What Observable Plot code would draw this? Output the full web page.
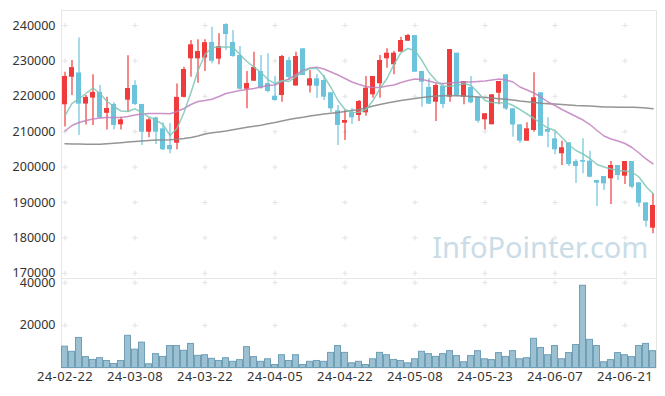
<!DOCTYPE html>
<html>
<head>
<meta charset="utf-8">
<script src="https://cdn.jsdelivr.net/npm/d3@7"></script>
<script src="https://cdn.jsdelivr.net/npm/@observablehq/plot@0.6"></script>
<style>
  html, body { margin: 0; padding: 0; background: #fff; }
  #chart { width: 665px; height: 396px; position: relative; }
  #chart svg { display: block; overflow: visible; background: transparent; }
  #chart svg.vol g[aria-label="x-axis tick label"] text { font-size: 13px; letter-spacing: 0.4px; }
</style>
</head>
<body>
<div id="chart"></div>
<script>
const dates = ["24-02-22","24-02-23","24-02-26","24-02-27","24-02-28","24-02-29","24-03-04","24-03-05","24-03-06","24-03-07",
"24-03-08","24-03-11","24-03-12","24-03-13","24-03-14","24-03-15","24-03-18","24-03-19","24-03-20","24-03-21",
"24-03-22","24-03-25","24-03-26","24-03-27","24-03-28","24-03-29","24-04-01","24-04-02","24-04-03","24-04-04",
"24-04-05","24-04-08","24-04-09","24-04-11","24-04-12","24-04-15","24-04-16","24-04-17","24-04-18","24-04-19",
"24-04-22","24-04-23","24-04-24","24-04-25","24-04-26","24-04-29","24-04-30","24-05-02","24-05-03","24-05-07",
"24-05-08","24-05-09","24-05-10","24-05-13","24-05-14","24-05-16","24-05-17","24-05-20","24-05-21","24-05-22",
"24-05-23","24-05-24","24-05-27","24-05-28","24-05-29","24-05-30","24-05-31","24-06-03","24-06-04","24-06-05",
"24-06-07","24-06-10","24-06-11","24-06-12","24-06-13","24-06-14","24-06-17","24-06-18","24-06-19","24-06-20",
"24-06-21","24-06-24","24-06-25","24-06-26","24-06-27"];

const open = [217600,225400,226600,217800,219500,221100,215200,217700,211950,218900,
223050,217700,209850,213900,210800,206100,206750,219700,230600,230600,
230800,235200,230500,240280,235200,231525,222000,224270,227000,223600,
220000,220225,230110,222900,233400,222900,224940,224460,220990,215900,
212400,215340,214575,215340,220420,223530,230600,228900,232460,235560,
237175,227000,222490,218330,222770,219750,232180,219750,222490,219750,
213350,211950,220870,226070,216470,211950,207320,210340,220990,210620,
207990,203760,206860,201580,201860,201670,196210,197340,196690,200450,
197430,201580,195560,189910,182740];
const high = [226800,230100,236500,220200,226100,223050,219700,218200,214100,231440,
224400,217700,213900,214100,212500,212300,223500,228200,235760,235960,
235960,239500,237650,240480,238600,234070,227000,232460,231525,232000,
225600,231525,231050,232460,233400,227290,226160,225875,220990,217400,
216000,216550,218800,225600,225600,231525,233410,232650,236700,237450,
237175,227000,225030,223530,223530,233220,232180,224180,225600,219750,
215060,220420,224180,226070,216470,211950,212510,226640,220990,213930,
209850,207320,206860,202060,207990,204490,196210,197340,201580,200450,
201580,201580,195560,189910,192450];
const low = [211300,220200,208900,211900,211750,213600,210500,210500,210500,215500,
217400,206100,208300,206400,204700,203750,204900,219500,225400,223700,
227000,229200,228900,232940,231000,221800,216470,224200,222000,221000,
218600,218330,224460,222900,225875,220930,219380,218800,215400,206100,
207500,212030,212880,214380,219460,219460,227940,226070,232460,235560,
226800,216920,217700,212880,216550,218330,220000,217600,217880,212400,
210500,211950,217600,215990,208440,206750,207320,209850,208730,205450,
203470,200450,200170,195450,198110,196980,188870,193390,189430,196210,
195080,193870,188670,183020,181150];
const close = [225600,228100,217800,219700,221100,213900,216550,211750,213350,222200,
217700,209850,213350,209850,204900,204900,219700,227570,234550,232650,
235150,229900,234070,237450,231240,222000,223600,228130,222300,221360,
218800,231240,225300,231240,225875,224940,222850,219750,216470,211750,
213160,213930,218530,222300,225600,230110,232180,232180,235760,237175,
226800,223980,217770,223050,217700,233220,220225,224180,218160,212960,
215060,220420,224180,216410,211890,207320,210820,219580,208730,209850,
204890,205450,200730,200170,201390,197140,195450,195280,200450,197630,
201580,194320,189800,184710,189150];

const ma5 = [214575,218000,219240,220790,222340,220790,218530,217120,215850,215700,
216470,215420,214150,213300,212030,208925,210900,215420,221070,227290,
231800,233800,233930,233930,233870,231800,229830,228220,226720,224740,
223610,224460,224180,225590,227000,227850,227850,225590,222490,218810,
216270,215420,215500,216270,218810,222200,225030,229000,232370,233500,
232940,230110,226720,224460,222770,222910,223050,223610,223050,221070,
218810,218250,218100,218240,217400,216270,215000,213730,212310,211040,
210340,208360,206240,204690,203700,202430,200730,200030,199460,199040,
198900,198610,197200,194520,192540];
const ma20 = [210200,211750,212600,213160,213580,213870,214010,214010,214010,214290,
214720,215000,215140,215140,215140,215050,215700,216550,217680,218530,
218810,219180,219940,220790,221210,221640,221920,222200,222630,223050,
223190,224180,224890,226160,227290,228000,228220,227710,226860,226020,
225030,224040,223330,222770,222490,222490,222910,223190,223900,224460,
224890,224740,224320,223760,223610,223760,223900,224040,224040,224180,
224320,224600,224890,224600,224040,222630,221780,220930,219750,218390,
217400,216270,215280,214290,213300,212030,210340,208780,207940,207370,
206660,205540,203980,202340,200930];
const ma120 = [206580,206550,206520,206490,206470,206470,206580,206720,206890,207090,
207230,207370,207510,207630,207680,207740,207850,208080,208360,208780,
209350,209680,209940,210200,210560,210900,211240,211520,211810,212260,
212600,213020,213450,213780,214070,214440,214720,215000,215220,215420,
215700,215990,216270,216690,217260,217680,218110,218450,218810,219100,
219380,219660,219890,220090,220170,220230,220170,220090,219940,219800,
219660,219520,219320,219150,218950,218670,218450,218250,218050,217910,
217800,217680,217540,217400,217320,217230,217120,217010,216950,216920,
216920,216890,216840,216690,216470];

const volume = [10000,7600,14100,5100,3800,4600,3300,1900,3300,15100,
8600,11900,1750,6500,5200,10300,10300,8100,11300,5700,
6000,4300,3300,4600,2900,3700,9800,5100,2900,4100,
1400,6000,3300,6000,1400,2900,3300,2900,7100,10300,
7100,2200,2900,1400,4100,7100,6000,3800,3300,2200,
4100,7600,6500,5200,6500,7900,5600,2700,5600,7900,
4100,3700,7000,5200,7900,4100,4600,13700,9400,6000,
10300,4100,7000,10800,38600,13200,10300,2700,3700,7000,
6000,5100,10300,11300,7900];

const tickDates = ["24-02-22","24-03-08","24-03-22","24-04-05","24-04-22","24-05-08","24-05-23","24-06-07","24-06-21"];
const priceTicks = [170000,180000,190000,200000,210000,220000,230000,240000];
const volumeTicks = [20000,40000];

const candles = dates.map((d, i) => ({date: d, open: open[i], high: high[i], low: low[i], close: close[i], up: close[i] >= open[i]}));
const vols = dates.map((d, i) => ({date: d, volume: volume[i]}));
const maRows = dates.map((d, i) => ({date: d, ma5: ma5[i], ma20: ma20[i], ma120: ma120[i]}));
const priceCross = tickDates.flatMap(d => priceTicks.map(v => ({date: d, v})));
const volCross = tickDates.flatMap(d => volumeTicks.map(v => ({date: d, v})));

const RED = "#ef3b3b", BLUE = "#6cc3dc";
const font = {fontFamily: "'Noto Sans', sans-serif", fontSize: "12.5px", color: "#333", background: "transparent", overflow: "visible"};

const price = Plot.plot({
  width: 665, height: 278,
  marginTop: 10, marginBottom: 0, marginLeft: 61, marginRight: 9,
  style: font,
  x: {type: "band", domain: dates, padding: 0, axis: null},
  y: {domain: [168530, 244240], ticks: priceTicks, tickSize: 0, tickPadding: 6, tickFormat: d => String(d), label: null},
  marks: [
    Plot.frame({stroke: "#e6e6e6"}),
    Plot.dot(priceCross, {x: "date", y: "v", symbol: "plus", r: 1.8, stroke: "#e2e2e2", strokeWidth: 1}),
    Plot.text(["InfoPointer.com"], {text: d => d, frameAnchor: "bottom-right", textAnchor: "end", dx: -8, dy: -21, fontSize: 29, fill: "#c9dce7", fontFamily: "'Noto Sans', sans-serif"}),
    Plot.ruleX(candles, {x: "date", y1: "low", y2: "high", stroke: d => d.up ? RED : BLUE, strokeWidth: 1.2}),
    Plot.barY(candles, {x: "date", y1: "open", y2: "close", fill: d => d.up ? RED : BLUE, insetLeft: 1, insetRight: 1}),
    Plot.line(maRows, {x: "date", y: "ma120", stroke: "#8a8a8a", strokeWidth: 1.5, strokeOpacity: 0.9}),
    Plot.line(maRows, {x: "date", y: "ma20", stroke: "#c27fbd", strokeWidth: 1.5, strokeOpacity: 0.85}),
    Plot.line(maRows, {x: "date", y: "ma5", stroke: "#7cc6b8", strokeWidth: 1.5, strokeOpacity: 0.85})
  ]
});

const vol = Plot.plot({
  width: 665, height: 118,
  marginTop: 0, marginBottom: 28.5, marginLeft: 61, marginRight: 9,
  style: font,
  x: {type: "band", domain: dates, padding: 0, ticks: tickDates, tickSize: 0, tickPadding: 4, tickFormat: d => d, label: null},
  y: {domain: [0, 42000], ticks: volumeTicks, tickSize: 0, tickPadding: 6, tickFormat: d => String(d), label: null},
  marks: [
    Plot.frame({stroke: "#e6e6e6"}),
    Plot.dot(volCross, {x: "date", y: "v", symbol: "plus", r: 1.8, stroke: "#e2e2e2", strokeWidth: 1}),
    Plot.barY(vols, {x: "date", y: "volume", fill: "#9bc0d1", stroke: "#6f9fb6", strokeWidth: 1, insetLeft: 0.5, insetRight: 0.5})
  ]
});
vol.classList.add("vol");

const el = document.getElementById("chart");
el.appendChild(price);
el.appendChild(vol);
</script>
</body>
</html>
